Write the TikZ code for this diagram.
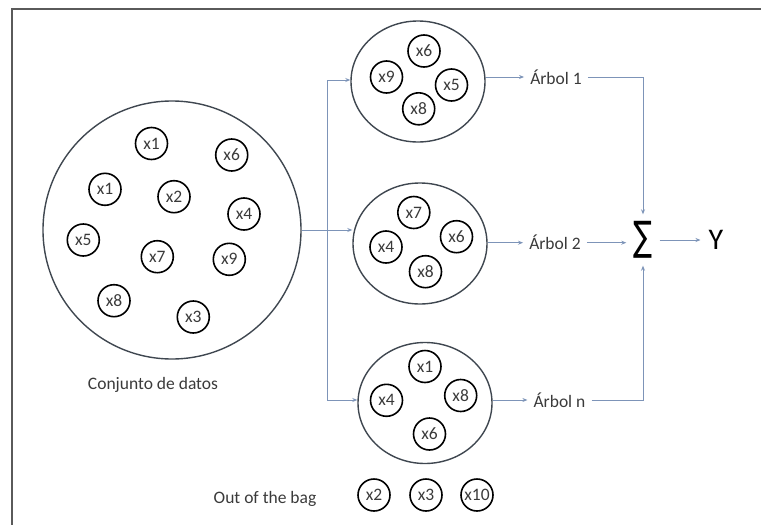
\documentclass[tikz,border=0pt]{standalone}
\usepackage{fontspec}
\setmainfont{Carlito}
\newfontfamily\djv{DejaVu Sans}
\usetikzlibrary{shapes.geometric,arrows.meta}
\definecolor{conncol}{HTML}{7D94B8}
\definecolor{bagcol}{HTML}{3F4750}
\definecolor{txtcol}{HTML}{3A3A3A}
\definecolor{framecol}{HTML}{5A5A5A}
\tikzset{
  item/.style={circle, draw=black, line width=1.6pt, minimum size=32pt, inner sep=0pt,
    font=\fontsize{17.5}{17.5}\selectfont, text=txtcol},
  bigbag/.style={circle, draw=bagcol, line width=1.4pt, minimum size=258pt, inner sep=0pt},
  treebag/.style={ellipse, draw=bagcol, line width=1.4pt, minimum width=134pt, minimum height=121pt, inner sep=0pt},
  lbl/.style={font=\fontsize{17.5}{18}\selectfont, text=txtcol, inner sep=6pt},
  conn/.style={draw=conncol, line width=1pt},
  arr/.style={conn, -{Stealth[length=5pt,width=4pt]}},
  frameline/.style={draw=framecol, line width=1.6pt}
}
\begin{document}
\begin{tikzpicture}[x=1pt,y=-1pt]
\useasboundingbox (0,0) rectangle (761,525);
\draw[frameline] (761,9) -- (12,9) -- (12,525);

% data set
\node[bigbag] (D) at (172,230) {};
\node[item] (d1) at (151.5,143.5) {x1};
\node[item] (d2) at (231.7,155) {x6};
\node[item] (d3) at (105,189.3) {x1};
\node[item] (d4) at (174,196.7) {x2};
\node[item] (d5) at (244,214) {x4};
\node[item] (d6) at (83.3,240) {x5};
\node[item] (d7) at (157.3,256.7) {x7};
\node[item] (d8) at (229.3,259.3) {x9};
\node[item] (d9) at (114,300.7) {x8};
\node[item] (d10) at (193.3,317) {x3};
\node[lbl] (Dl) at (153,385) {Conjunto de datos};

% tree 1
\node[treebag] (t1) at (418,81.5) {};
\node[item] (a1i1) at (424,51) {x6};
\node[item] (a1i2) at (386.5,77) {x9};
\node[item] (a1i3) at (451.5,85) {x5};
\node[item] (a1i4) at (418.7,108.8) {x8};

% tree 2
\node[treebag] (t2) at (420,243.5) {};
\node[item] (a2i1) at (413.8,212.5) {x7};
\node[item] (a2i2) at (386,247) {x4};
\node[item] (a2i3) at (456.5,236.7) {x6};
\node[item] (a2i4) at (425.5,271.7) {x8};

% tree n
\node[treebag] (tn) at (425,403) {};
\node[item] (ani1) at (425,366.5) {x1};
\node[item] (ani2) at (386.5,400.3) {x4};
\node[item] (ani3) at (460.7,395.5) {x8};
\node[item] (ani4) at (429.5,434) {x6};

% out of the bag
\node[lbl] (oob) at (265,499) {Out of the bag};
\node[item] (o1) at (374,495) {x2};
\node[item] (o2) at (426,495) {x3};
\node[item] (o3) at (477,495) {x10};

% labels on the right
\node[lbl] (A1) at (556,77) {Árbol 1};
\node[lbl] (A2) at (555,242.7) {Árbol 2};
\node[lbl] (An) at (559.5,400) {Árbol n};
\node[inner sep=7pt] (sum) at (643,240) {\resizebox*{19pt}{37pt}{\djv ∑}};
\node[font=\fontsize{30}{30}\selectfont, text=black, inner sep=8pt] (Y) at (716,240) {Y};

% connectors: bootstrap
\coordinate (b1) at (327,80);
\coordinate (bn) at (327,400);
\draw[conn] (b1) -- (bn);
\draw[arr] (D.east) -- (D.east -| t2.west);
\draw[arr] (b1) -- (b1 -| t1.west);
\draw[arr] (bn) -- (bn -| tn.west);

% connectors: aggregation
\draw[arr] (t1.east |- A1) -- (A1.west);
\draw[arr] (t2.east |- A2) -- (A2.west);
\draw[arr] (tn.east |- An) -- (An.west);
\draw[arr] (A1.east) -| (sum.north);
\draw[arr] (An.east) -| (sum.south);
\draw[arr] (A2.east) -- (A2.east -| sum.west);
\draw[arr] (sum.east) -- (Y.west);
\end{tikzpicture}
\end{document}
